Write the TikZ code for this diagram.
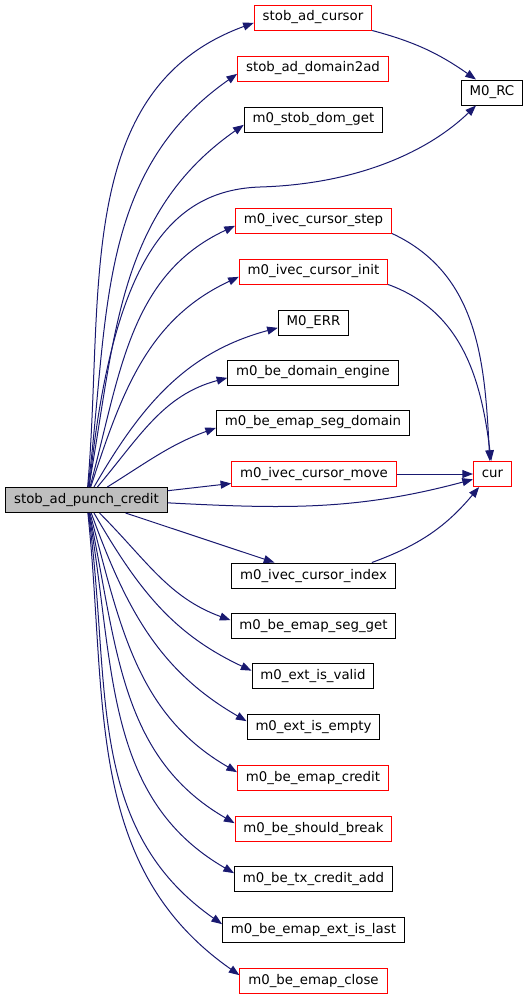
\documentclass[tikz,border=0pt]{standalone}
\usepackage{fontspec}
\setmainfont{DejaVu Sans}
\usetikzlibrary{arrows.meta}
\definecolor{edgeblue}{HTML}{191970}
\definecolor{mainfill}{HTML}{BFBFBF}

\begin{document}
\begin{tikzpicture}[x=0.75pt,y=0.75pt,>={Triangle[length=8pt,width=6pt]},
 fn/.style={draw=black,fill=white,line width=0.75pt,minimum height=18.75pt,inner xsep=6.3pt,inner ysep=0pt,font=\fontsize{10}{12}\selectfont},
 fnr/.style={fn,draw=red},
 call/.style={->,edgeblue,line width=0.75pt}]
\useasboundingbox (0,0) rectangle (531,-1000);
\node[fn,fill=mainfill] (main) at (86.5,-500) {stob\_ad\_punch\_credit};
% callees, one column
\node[fnr] (sc) at (313,-17.5) {stob\_ad\_cursor};
\node[fnr] (sd) at (313,-68.5) {stob\_ad\_domain2ad};
\node[fn] (dg) at (313.5,-119.5) {m0\_stob\_dom\_get};
\node[fn] (rc) at (492,-92.5) {M0\_RC};
\node[fnr] (cs) at (313.5,-220.5) {m0\_ivec\_cursor\_step};
\node[fnr] (ci) at (313.5,-271.5) {m0\_ivec\_cursor\_init};
\node[fn] (err) at (313.5,-322.5) {M0\_ERR};
\node[fn] (de) at (313,-372.5) {m0\_be\_domain\_engine};
\node[fn] (sdm) at (313,-422.5) {m0\_be\_emap\_seg\_domain};
\node[fnr] (mv) at (314,-474) {m0\_ivec\_cursor\_move};
\node[fnr] (cur) at (492.5,-474) {cur};
\node[fn] (ix) at (313.5,-575.5) {m0\_ivec\_cursor\_index};
\node[fn] (sg) at (313.5,-625.5) {m0\_be\_emap\_seg\_get};
\node[fn] (ev) at (313,-676) {m0\_ext\_is\_valid};
\node[fn] (ee) at (313.5,-726.5) {m0\_ext\_is\_empty};
\node[fnr] (ec) at (313,-777.5) {m0\_be\_emap\_credit};
\node[fnr] (sb) at (313.5,-828.5) {m0\_be\_should\_break};
\node[fn] (tca) at (313.5,-878.5) {m0\_be\_tx\_credit\_add};
\node[fn] (el) at (313.5,-929.5) {m0\_be\_emap\_ext\_is\_last};
\node[fnr] (ecl) at (313.5,-980.5) {m0\_be\_emap\_close};
% fan out of the caller
\foreach \n/\o/\i in {sc/85/200,sd/83/215,dg/80/215,cs/75/205,ci/72/205,err/60/195,de/50/195,sdm/32/200}
  \draw[call] (main) to[out=\o,in=\i] ([yshift=-4pt]\n.west);
\foreach \n/\o/\i in {sg/-45/160,ev/-60/155,ee/-70/150,ec/-75/150,sb/-78/150,tca/-80/150,el/-82/145,ecl/-84/145}
  \draw[call] (main) to[out=\o,in=\i] ([yshift=4pt]\n.west);
\draw[call] (main) -- (mv);
\draw[call] (main) -- (ix);
\draw[call] (main.-2) to[out=-3,in=195] ([yshift=-4pt]cur.west);
\draw[call] (main.78) .. controls (112,-260) and (170,-190) .. (260,-187)
  .. controls (360,-184) and (430,-150) .. ([xshift=-12pt]rc.south);
% calls into M0_RC and cur
\draw[call] (sc.south east) to[out=-15,in=145] ([xshift=-12pt]rc.north);
\draw[call] (cs.south east) to[out=-25,in=93] ([xshift=-2pt]cur.north);
\draw[call] (ci.south east) to[out=-20,in=97] ([xshift=-1pt]cur.north);
\draw[call] (mv) -- (cur);
\draw[call] ([xshift=-18pt]ix.north east) to[out=20,in=230] ([xshift=-10pt]cur.south);
\end{tikzpicture}
\end{document}
